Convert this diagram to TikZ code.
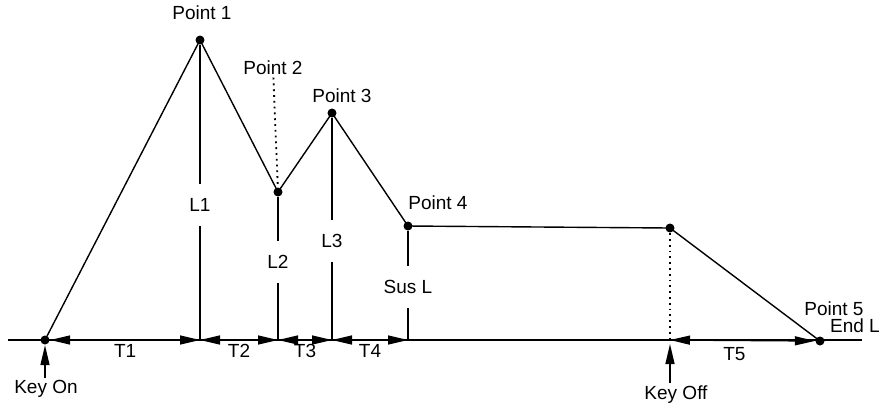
\documentclass[tikz,border=0pt]{standalone}
\usepackage{fontspec}
\setmainfont{Liberation Sans}
\usetikzlibrary{arrows.meta}

\tikzset{
  dot/.style={circle, fill, inner sep=0pt, minimum size=4.5pt},
  lbl/.style={font=\fontsize{9.5}{11}\selectfont, inner sep=1pt},
  gap/.style={lbl, inner ysep=7pt},
  >={Triangle[length=10pt,width=4.5pt]}
}

\begin{document}
\begin{tikzpicture}[x=0.5pt, y=-0.5pt, line width=0.7pt]
    \useasboundingbox (0,0) rectangle (880,404);
    % envelope points
    \node[dot] (K) at (45,340) {};
    \node[dot] (P1) at (200,40) {};
    \node[dot] (P2) at (278,192) {};
    \node[dot] (P3) at (332,113) {};
    \node[dot] (P4) at (408,226) {};
    \node[dot] (R) at (670,228) {};
    \node[dot] (P5) at (820,341) {};
    % base line
    \coordinate (B0) at (8,340);
    \coordinate (B1) at (862,340);
    \coordinate (b1) at (200,340);
    \coordinate (b2) at (278,340);
    \coordinate (b3) at (332,340);
    \coordinate (b4) at (408,340);
    \coordinate (b6) at (670,340);
    \draw (B0) -- (B1);
    \draw (K.center) -- (P1.center) -- (P2.center) -- (P3.center) -- (P4.center) -- (R.center) -- (P5.center);
    % point labels
    \node[lbl] (t1) at (202,13) {Point 1};
    \node[lbl] (t2) at (273,68) {Point 2};
    \node[lbl] (t3) at (342,96) {Point 3};
    \node[lbl] (t4) at (438,203) {Point 4};
    \node[lbl] (t5) at (834,309) {Point 5};
    \node[lbl] (t6) at (855,326) {End L};
    \draw [dotted, line width=0.9pt] (t2) to (P2);
    % levels
    \node[gap] (L1) at (200,205) {L1};
    \node[gap] (L2) at (278,262) {L2};
    \node[gap] (L3) at (332,241) {L3};
    \node[gap] (SL) at (408,287) {Sus L};
    \draw (P1) to (L1);
    \draw (L1) to (b1);
    \draw (P2) to (L2);
    \draw (L2) to (b2);
    \draw (P3) to (L3);
    \draw (L3) to (b3);
    \draw (P4) to (SL);
    \draw (SL) to (b4);
    \draw [dotted, line width=0.9pt] (R) to (b6);
    % times
    \draw [<->] (K) to node [lbl, anchor=north, yshift=-1pt] {T1} (b1);
    \draw [<->] (b1) to node [lbl, anchor=north, yshift=-1pt] {T2} (b2);
    \draw [<->] (b2) to node [lbl, anchor=north, yshift=-1pt] {T3} (b3);
    \draw [<->] (b3) to node [lbl, anchor=north, yshift=-1pt] {T4} (b4);
    \draw [<->] (b6) to node [lbl, anchor=north, xshift=-4pt, yshift=-2pt] {T5} (P5);
    % keys
    \node[lbl] (KOn) at (46,389) {Key On};
    \node[lbl] (KOff) at (676,395) {Key Off};
    \draw [->] (KOn.north -| K) to (K);
    \draw [->, shorten >=2pt] (KOff.north -| b6) to (b6);
\end{tikzpicture}
\end{document}
